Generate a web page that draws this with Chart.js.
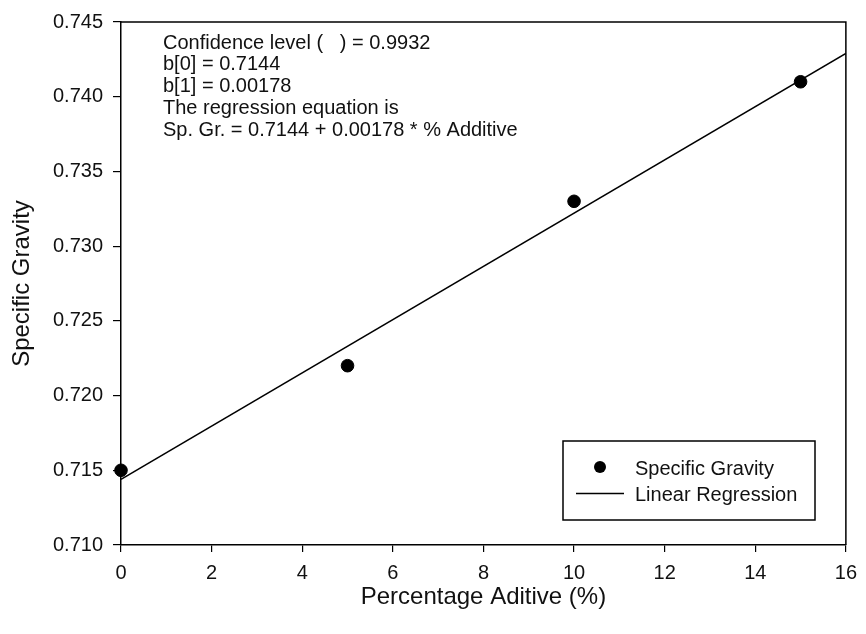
<!doctype html>
<html lang="en">
<head>
  <meta charset="utf-8">
  <title>Specific Gravity vs Additive</title>
  <script src="https://cdn.jsdelivr.net/npm/chart.js"></script>
  <style>
    body { margin: 0; background: #fff; }
    canvas { display: block; }
  </style>
</head>
<body>
  <canvas id="sgChart" width="866" height="634"></canvas>

  <script>
    const pctAdditive = [0, 5, 10, 15];
    const specGravity = [0.715, 0.722, 0.733, 0.741];
    const regX = [0, 16];
    const regY = [0.7144, 0.7429];
    const xTicks = [0, 2, 4, 6, 8, 10, 12, 14, 16];
    const yTicks = [0.710, 0.715, 0.720, 0.725, 0.730, 0.735, 0.740, 0.745];
    const noteLines = [
      'Confidence level (   ) = 0.9932',
      'b[0] = 0.7144',
      'b[1] = 0.00178',
      'The regression equation is',
      'Sp. Gr. = 0.7144 + 0.00178 * % Additive'
    ];

    const FONT = '"Liberation Sans", Arial, sans-serif';
    const INK = '#111';

    // box round the plot area + text block + legend
    const extras = {
      id: 'extras',
      afterDatasetsDraw(chart) {
        const { ctx, chartArea: a } = chart;
        ctx.save();
        ctx.strokeStyle = '#000';
        ctx.lineWidth = 1.5;
        ctx.beginPath();
        ctx.moveTo(a.left, a.top);
        ctx.lineTo(a.right, a.top);
        ctx.lineTo(a.right, a.bottom);
        ctx.stroke();

        ctx.fillStyle = INK;
        ctx.font = '20px ' + FONT;
        ctx.textAlign = 'left';
        ctx.textBaseline = 'alphabetic';
        noteLines.forEach((t, i) => ctx.fillText(t, 163, 48.5 + i * 21.9));

        // legend
        const ds = chart.data.datasets;
        ctx.strokeRect(563, 441, 252, 79);
        ctx.fillStyle = '#000';
        ctx.beginPath();
        ctx.arc(600, 467, 6, 0, Math.PI * 2);
        ctx.fill();
        ctx.beginPath();
        ctx.moveTo(576, 493.5);
        ctx.lineTo(624, 493.5);
        ctx.stroke();
        ctx.fillStyle = INK;
        ctx.fillText(ds[0].label, 635, 474.5);
        ctx.fillText(ds[1].label, 635, 501);
        ctx.restore();
      }
    };

    const axisCommon = {
      grid: { display: true, drawOnChartArea: false, drawTicks: true, color: '#000', lineWidth: 1.2 },
      border: { display: true, color: '#000', width: 1.5 }
    };

    new Chart(document.getElementById('sgChart'), {
      type: 'scatter',
      data: {
        datasets: [
          {
            label: 'Specific Gravity',
            data: pctAdditive.map((x, i) => ({ x, y: specGravity[i] })),
            backgroundColor: '#000',
            borderColor: '#000',
            pointRadius: 6.3,
            pointHoverRadius: 6.3,
            clip: false,
            order: 0
          },
          {
            label: 'Linear Regression',
            type: 'line',
            data: regX.map((x, i) => ({ x, y: regY[i] })),
            borderColor: '#000',
            borderWidth: 1.5,
            pointRadius: 0,
            fill: false,
            order: 1
          }
        ]
      },
      options: {
        responsive: false,
        animation: false,
        layout: { padding: { top: 19, right: 17, left: 0, bottom: 0 } },
        plugins: { legend: { display: false }, tooltip: { enabled: false } },
        scales: {
          x: {
            ...axisCommon,
            type: 'linear',
            min: 0,
            max: 16,
            grid: { ...axisCommon.grid, tickLength: 7 },
            afterBuildTicks: s => { s.ticks = xTicks.map(v => ({ value: v })); },
            afterFit: s => { s.height = 89; },
            ticks: { color: INK, padding: 9, font: { family: FONT, size: 20 } },
            title: {
              display: true,
              text: 'Percentage Aditive (%)',
              color: INK,
              font: { family: FONT, size: 24 },
              padding: { top: 0, bottom: 22.6 }
            }
          },
          y: {
            ...axisCommon,
            min: 0.710,
            max: 0.745,
            grid: { ...axisCommon.grid, tickLength: 8 },
            afterBuildTicks: s => { s.ticks = yTicks.map(v => ({ value: v })); },
            afterFit: s => { s.width = 121; },
            ticks: {
              color: INK,
              padding: 10,
              font: { family: FONT, size: 20 },
              callback: v => v.toFixed(3)
            },
            title: {
              display: true,
              text: 'Specific Gravity',
              color: INK,
              font: { family: FONT, size: 24 },
              padding: { top: 7.6, bottom: 0 }
            }
          }
        }
      },
      plugins: [extras]
    });
  </script>
</body>
</html>
